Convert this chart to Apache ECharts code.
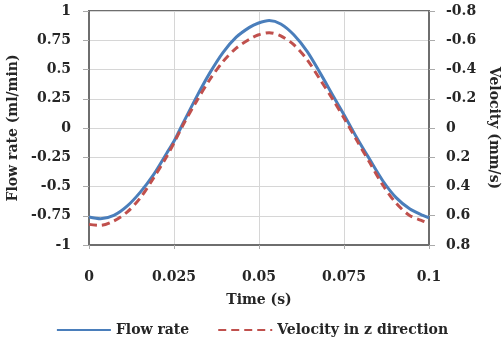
<!DOCTYPE html>
<html>
<head>
<meta charset="utf-8">
<script src="https://cdn.jsdelivr.net/npm/echarts@6/dist/echarts.min.js"></script>
<style>html,body{margin:0;padding:0;background:#fff}#c{width:504px;height:339px}</style>
</head>
<body>
<div id="c"></div>
<script>
// Time (s)
var time = [0, 0.0034, 0.0073, 0.0112, 0.0151, 0.019, 0.0229, 0.025, 0.0277, 0.0316, 0.0355, 0.0394, 0.0433, 0.0472, 0.0497,
            0.053, 0.0564, 0.0603, 0.0642, 0.068, 0.0719, 0.075, 0.0788, 0.0826, 0.0865, 0.0904, 0.0943, 0.0982, 0.1];
// Flow rate (ml/min), left axis
var flowRate = [-0.76, -0.775, -0.747, -0.668, -0.548, -0.398, -0.213, -0.114, 0.043, 0.264, 0.469, 0.645, 0.776, 0.86, 0.895,
                0.918, 0.889, 0.795, 0.653, 0.469, 0.27, 0.114, -0.085, -0.27, -0.455, -0.597, -0.69, -0.747, -0.767];
// Velocity in z direction (mm/s), right axis (inverted)
var velocity = [0.659, 0.666, 0.636, 0.575, 0.478, 0.341, 0.193, 0.102, -0.022, -0.182, -0.33, -0.454, -0.546, -0.607, -0.636,
                -0.652, -0.63, -0.568, -0.466, -0.33, -0.189, -0.068, 0.086, 0.238, 0.393, 0.516, 0.598, 0.636, 0.652];

var xTicks = [0, 0.025, 0.05, 0.075, 0.1];
var leftTicks = [-1, -0.75, -0.5, -0.25, 0, 0.25, 0.5, 0.75, 1];
var rightTicks = [-0.8, -0.6, -0.4, -0.2, 0, 0.2, 0.4, 0.6, 0.8];
var seriesNames = ['Flow rate', 'Velocity in z direction'];

function pairs(xs, ys) { return xs.map(function (x, i) { return [x, ys[i]]; }); }
function tickFmt(list) {
  return function (v) { var i = list.findIndex(function (t) { return Math.abs(t - v) < 1e-9; }); return i >= 0 ? String(list[i]) : ''; };
}

var FONT = 'DejaVu Serif';
var TXT = '#262626';
var AX = '#6e6e6e';
var GRID = '#d6d6d6';
var LBL = { fontFamily: FONT, fontSize: 14, fontWeight: 'bold', color: TXT };

var chart = echarts.init(document.getElementById('c'));
chart.setOption({
  animation: false,
  textStyle: { fontFamily: FONT },
  grid: { left: 89, right: 75, top: 11, bottom: 94, outerBoundsMode: 'none', containLabel: false,
          show: true, borderColor: AX, borderWidth: 2, backgroundColor: 'transparent' },
  legend: {
    top: 318, left: 'center', itemWidth: 54, itemHeight: 14, itemGap: 28,
    itemStyle: { opacity: 0 },
    textStyle: LBL,
    data: [{ name: seriesNames[0] }, { name: seriesNames[1] }]
  },
  xAxis: {
    type: 'value', min: xTicks[0], max: xTicks[xTicks.length - 1], interval: xTicks[1] - xTicks[0],
    name: 'Time (s)', nameLocation: 'middle', nameGap: 48,
    nameTextStyle: LBL,
    axisLine: { show: true, onZero: false, lineStyle: { color: AX, width: 2 } },
    axisTick: { show: true, inside: false, length: 4, lineStyle: { color: '#aaa' } },
    axisLabel: Object.assign({ margin: 25, formatter: tickFmt(xTicks) }, LBL),
    splitLine: { show: true, lineStyle: { color: GRID, width: 1 } }
  },
  yAxis: [{
    type: 'value', min: leftTicks[0], max: leftTicks[leftTicks.length - 1], interval: 0.25,
    name: 'Flow rate (ml/min)', nameLocation: 'middle', nameGap: 66, nameRotate: 90,
    nameTextStyle: LBL,
    axisLine: { show: true, lineStyle: { color: AX, width: 2 } },
    axisTick: { show: true, length: 6, lineStyle: { color: '#aaa' } },
    axisLabel: Object.assign({ margin: 18, formatter: tickFmt(leftTicks) }, LBL),
    splitLine: { show: true, lineStyle: { color: GRID, width: 1 } }
  }, {
    type: 'value', min: rightTicks[0], max: rightTicks[rightTicks.length - 1], interval: 0.2, inverse: true,
    position: 'right',
    name: 'Velocity (mm/s)', nameLocation: 'middle', nameGap: 57, nameRotate: -90,
    nameTextStyle: LBL,
    axisLine: { show: true, lineStyle: { color: AX, width: 2 } },
    axisTick: { show: true, length: 6, lineStyle: { color: '#aaa' } },
    axisLabel: Object.assign({ margin: 17, formatter: tickFmt(rightTicks) }, LBL),
    splitLine: { show: false }
  }],
  series: [{
    name: seriesNames[0], type: 'line', yAxisIndex: 0, smooth: 0.3, symbol: 'none',
    data: pairs(time, flowRate),
    lineStyle: { color: '#4a7ebb', width: 3 }, itemStyle: { color: '#4a7ebb' }
  }, {
    name: seriesNames[1], type: 'line', yAxisIndex: 1, smooth: 0.3, symbol: 'none',
    data: pairs(time, velocity),
    lineStyle: { color: '#c0504d', width: 3, type: [8, 5] }, itemStyle: { color: '#c0504d' }
  }]
});
</script>
</body>
</html>
